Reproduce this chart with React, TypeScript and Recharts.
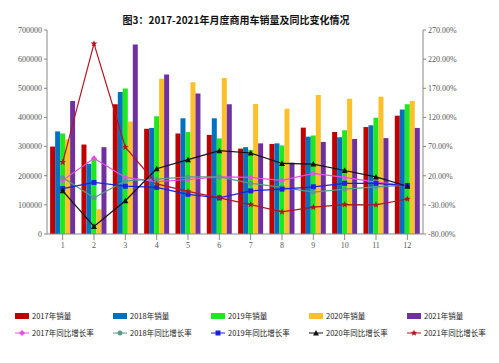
import React from 'react';
import {Bar, ComposedChart, Legend, Line, XAxis, YAxis} from 'recharts';

const months = ['1', '2', '3', '4', '5', '6', '7', '8', '9', '10', '11', '12'];

const sales2017 = [300000, 307000, 445000, 361000, 345000, 340000, 293000, 309000, 365000, 350000, 367000, 406000];
const sales2018 = [352000, 241000, 487000, 364000, 397000, 397000, 298000, 311000, 334000, 332000, 373000, 427000];
const sales2019 = [345000, 258000, 499000, 404000, 350000, 328000, 288000, 304000, 338000, 356000, 399000, 445000];
const sales2020 = [325000, 85000, 386000, 533000, 521000, 535000, 446000, 430000, 477000, 464000, 471000, 456000];
const sales2021 = [456000, 298000, 650000, 547000, 482000, 445000, 311000, 245000, 316000, 326000, 329000, 364000];

const yoy2017 = [12, 50, 17, 10, 13.5, 18, 17, 12, 24, 17, 9, 3];
const yoy2018 = [17, -18, 11, 14, 18, 18, 7, 0, -8, -3, 1, 4];
const yoy2019 = [-2, 8.5, 2, 0, -12, -18, -6, -3, 1, 7, 7, 3];
const yoy2020 = [-6, -67, -23, 32, 47.5, 63, 59, 41, 40, 29, 18, 2];
const yoy2021 = [43, 246.5, 69, 6, -7, -18, -29.5, -42, -34, -29.5, -30, -20];

const leftTicks = [0, 100000, 200000, 300000, 400000, 500000, 600000, 700000];
const rightTicks = [-80, -30, 20, 70, 120, 170, 220, 270];

const barSeries = [
    {key: 's2017', name: '2017年销量', color: '#c00000', values: sales2017},
    {key: 's2018', name: '2018年销量', color: '#0070c0', values: sales2018},
    {key: 's2019', name: '2019年销量', color: '#1ee81e', values: sales2019},
    {key: 's2020', name: '2020年销量', color: '#fbc02a', values: sales2020},
    {key: 's2021', name: '2021年销量', color: '#7030a0', values: sales2021},
];

const lineSeries = [
    {key: 'r2017', name: '2017年同比增长率', color: '#e64ee6', shape: 'diamond', values: yoy2017},
    {key: 'r2018', name: '2018年同比增长率', color: '#5a9a8c', shape: 'circle', values: yoy2018},
    {key: 'r2019', name: '2019年同比增长率', color: '#1a22e0', shape: 'square', values: yoy2019},
    {key: 'r2020', name: '2020年同比增长率', color: '#111111', shape: 'triangle', values: yoy2020},
    {key: 'r2021', name: '2021年同比增长率', color: '#b4141e', shape: 'star', values: yoy2021},
];

const data = months.map((m, i) => {
    const row: any = {month: m};
    barSeries.forEach(s => (row[s.key] = s.values[i]));
    lineSeries.forEach(s => (row[s.key] = s.values[i]));
    return row;
});

const tickStyle = {fontFamily: '"Liberation Serif", "DejaVu Serif", serif', fontSize: 8, fill: '#555'};

const Marker = ({cx, cy, shape, color}: any) => {
    if (cx == null || cy == null) return null;
    if (shape === 'square') return <rect x={cx - 2.5} y={cy - 2.5} width={5} height={5} fill={color}/>;
    if (shape === 'triangle') return <path d={`M${cx},${cy - 3}L${cx + 3},${cy + 2.5}L${cx - 3},${cy + 2.5}Z`} fill={color}/>;
    if (shape === 'diamond') return <path d={`M${cx},${cy - 3}L${cx + 3},${cy}L${cx},${cy + 3}L${cx - 3},${cy}Z`} fill={color}/>;
    if (shape === 'star') {
        const pts: string[] = [];
        for (let k = 0; k < 10; k++) {
            const r = k % 2 === 0 ? 3.5 : 1.5;
            const a = -Math.PI / 2 + (k * Math.PI) / 5;
            pts.push(`${cx + r * Math.cos(a)},${cy + r * Math.sin(a)}`);
        }
        return <polygon points={pts.join(' ')} fill={color}/>;
    }
    return <circle cx={cx} cy={cy} r={2.5} fill={color}/>;
};

const LegendIcon = ({s, bar}: any) => {
    if (bar) return <svg width={14} height={6}><rect width={14} height={6} fill={s.color}/></svg>;
    return (
        <svg width={14} height={6}>
            <line x1={0} y1={3} x2={14} y2={3} stroke={s.color} strokeWidth={1}/>
            <Marker cx={7} cy={3} shape={s.shape} color={s.color}/>
        </svg>
    );
};

const renderLegend = () => (
    <div style={{fontFamily: '"Noto Sans CJK SC", sans-serif', fontSize: 7.5, color: '#222'}}>
        {[barSeries, lineSeries].map((row, r) => (
            <div key={r} style={{display: 'flex', height: 17, alignItems: 'center'}}>
                {row.map(s => (
                    <div key={s.key} style={{width: 98, display: 'flex', alignItems: 'center', gap: 3}}>
                        <LegendIcon s={s} bar={r === 0}/>
                        <span>{s.name}</span>
                    </div>
                ))}
            </div>
        ))}
    </div>
);

export default function App() {
    return (
        <div style={{position: 'absolute', left: 0, top: 0, width: 499, height: 363, background: '#fff'}}>
            <div style={{
                position: 'absolute', left: 0, top: 12, width: 472, textAlign: 'center',
                fontFamily: '"Noto Sans CJK SC", sans-serif', fontWeight: 700, fontSize: 10, color: '#111'
            }}>
                图3：2017-2021年月度商用车销量及同比变化情况
            </div>
            <ComposedChart
                width={499}
                height={363}
                data={data}
                margin={{top: 30, right: 0, left: 0, bottom: 75}}
                barCategoryGap="10%"
                barGap={0}
            >
                <XAxis dataKey="month" tick={tickStyle} tickLine={{stroke: '#888'}} axisLine={{stroke: '#888'}} height={20}/>
                <YAxis yAxisId="left" width={47} domain={[0, 700000]} ticks={leftTicks} tick={tickStyle}
                       tickLine={{stroke: '#888'}} axisLine={{stroke: '#888'}} tickSize={3} interval={0}/>
                <YAxis yAxisId="right" orientation="right" width={76} domain={[-80, 270]} ticks={rightTicks}
                       tick={tickStyle} tickFormatter={(v: number) => `${v.toFixed(2)}%`}
                       tickLine={{stroke: '#888'}} axisLine={{stroke: '#888'}} tickSize={3} interval={0}/>
                {barSeries.map(s => (
                    <Bar key={s.key} yAxisId="left" dataKey={s.key} name={s.name} fill={s.color}
                         isAnimationActive={false}/>
                ))}
                {lineSeries.map(s => (
                    <Line key={s.key} yAxisId="right" type="linear" dataKey={s.key} name={s.name}
                          stroke={s.color} strokeWidth={1.2} isAnimationActive={false}
                          dot={(p: any) => <Marker key={`${s.key}-${p.index}`} cx={p.cx} cy={p.cy} shape={s.shape} color={s.color}/>}
                          activeDot={false}/>
                ))}
                <Legend content={renderLegend} wrapperStyle={{left: 15, top: 307, width: 499}}/>
            </ComposedChart>
        </div>
    );
}
